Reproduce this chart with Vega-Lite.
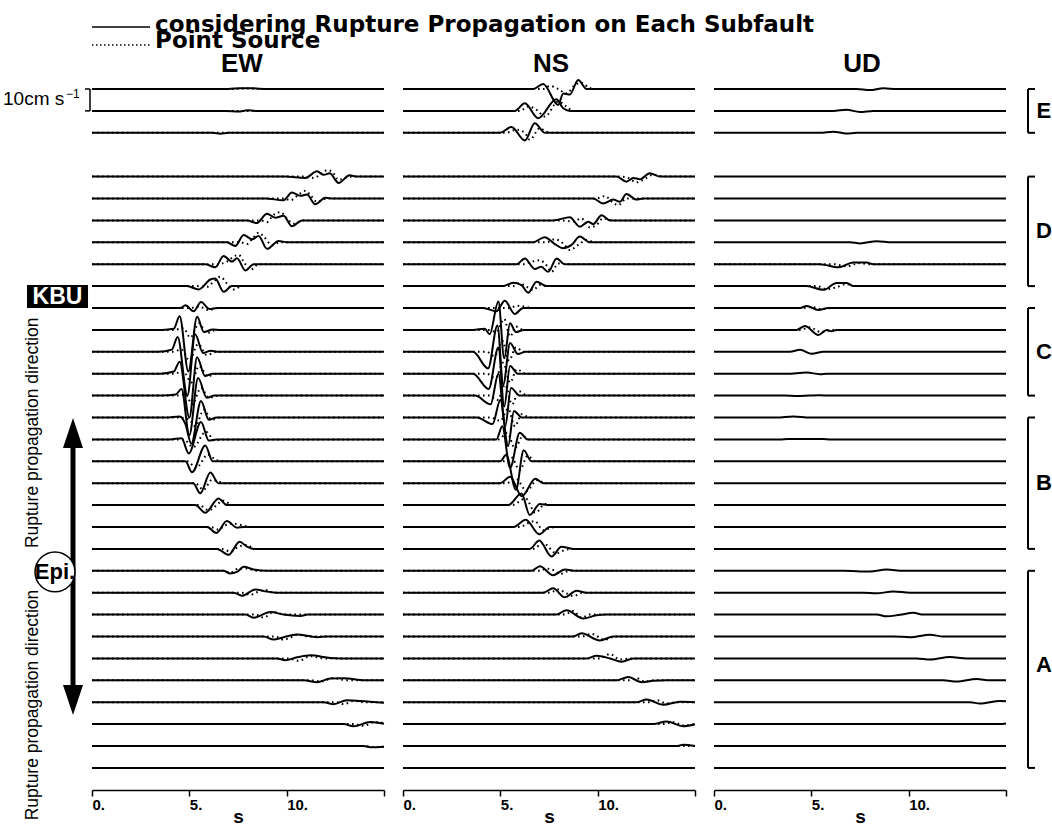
{
"$schema":"https://vega.github.io/schema/vega-lite/v6.json",
"padding":0,"background":"white","bounds":"flush","spacing":19,
"config":{"view":{"stroke":null},
"axisX":{"grid":false,"domainColor":"#000","domainWidth":1.5,"tickColor":"#000","tickWidth":1.5,"tickSize":6,"labelFont":"Liberation Sans","labelFontWeight":"bold","labelFontSize":15,"labelColor":"#000","labelAlign":"left","labelBaseline":"top","labelPadding":1,"labelFlush":false,"labelOverlap":false,"titleFont":"Liberation Sans","titleFontWeight":"bold","titleFontSize":19,"titleColor":"#000","titlePadding":-5}},
"datasets":{
"ewS":[
{"n":0,"t":0,"y":0},{"n":0,"t":7,"y":0},{"n":0,"t":7.6,"y":-0.04},{"n":0,"t":8.3,"y":-0.03},{"n":0,"t":9,"y":0},{"n":0,"t":15,"y":0},
{"n":1,"t":0,"y":1},{"n":1,"t":6.9,"y":1},{"n":1,"t":7.5,"y":1.03},{"n":1,"t":8,"y":0.97},{"n":1,"t":8.4,"y":1},{"n":1,"t":15,"y":1},
{"n":2,"t":0,"y":2},{"n":2,"t":6.2,"y":2},{"n":2,"t":6.6,"y":2.04},{"n":2,"t":7,"y":2},{"n":2,"t":15,"y":2},
{"n":4,"t":0,"y":4},{"n":4,"t":9.93,"y":4},{"n":4,"t":10.96,"y":4.06},{"n":4,"t":11.56,"y":3.76},{"n":4,"t":11.9,"y":3.92},{"n":4,"t":12.21,"y":3.85},{"n":4,"t":12.67,"y":4.29},{"n":4,"t":13.23,"y":3.94},{"n":4,"t":13.61,"y":4},{"n":4,"t":15,"y":4},
{"n":5,"t":0,"y":5},{"n":5,"t":8.9,"y":5},{"n":5,"t":9.84,"y":5.08},{"n":5,"t":10.27,"y":4.73},{"n":5,"t":10.7,"y":4.88},{"n":5,"t":11.04,"y":4.82},{"n":5,"t":11.47,"y":5.26},{"n":5,"t":11.99,"y":4.97},{"n":5,"t":12.41,"y":5},{"n":5,"t":15,"y":5},
{"n":6,"t":0,"y":6},{"n":6,"t":7.96,"y":6},{"n":6,"t":8.47,"y":6.12},{"n":6,"t":8.99,"y":5.7},{"n":6,"t":9.42,"y":5.88},{"n":6,"t":9.84,"y":5.79},{"n":6,"t":10.27,"y":6.27},{"n":6,"t":10.79,"y":6},{"n":6,"t":15,"y":6},
{"n":7,"t":0,"y":7},{"n":7,"t":6.93,"y":7},{"n":7,"t":7.36,"y":7.17},{"n":7,"t":7.79,"y":6.67},{"n":7,"t":8.22,"y":6.86},{"n":7,"t":8.56,"y":6.71},{"n":7,"t":8.99,"y":7.3},{"n":7,"t":9.59,"y":6.94},{"n":7,"t":10.02,"y":7},{"n":7,"t":15,"y":7},
{"n":8,"t":0,"y":8},{"n":8,"t":5.82,"y":8},{"n":8,"t":6.33,"y":8.14},{"n":8,"t":6.76,"y":7.62},{"n":8,"t":7.19,"y":7.88},{"n":8,"t":7.45,"y":7.73},{"n":8,"t":7.88,"y":8.29},{"n":8,"t":8.3,"y":8},{"n":8,"t":15,"y":8},
{"n":9,"t":0,"y":9},{"n":9,"t":4.88,"y":9},{"n":9,"t":5.48,"y":9.15},{"n":9,"t":6.08,"y":8.7},{"n":9,"t":6.33,"y":8.65},{"n":9,"t":6.76,"y":9.26},{"n":9,"t":7.19,"y":9},{"n":9,"t":15,"y":9},
{"n":10,"t":0,"y":10},{"n":10,"t":4.54,"y":10},{"n":10,"t":4.8,"y":9.88},{"n":10,"t":5.22,"y":10.15},{"n":10,"t":5.6,"y":9.73},{"n":10,"t":6.05,"y":10.05},{"n":10,"t":6.42,"y":10},{"n":10,"t":15,"y":10},
{"n":11,"t":0,"y":11},{"n":11,"t":3.6,"y":11},{"n":11,"t":4.2,"y":10.95},{"n":11,"t":4.5,"y":10.38},{"n":11,"t":4.95,"y":12.9},{"n":11,"t":5.4,"y":10.4},{"n":11,"t":5.75,"y":11.1},{"n":11,"t":6.2,"y":10.98},{"n":11,"t":6.6,"y":11},{"n":11,"t":15,"y":11},
{"n":12,"t":0,"y":12},{"n":12,"t":3.4,"y":12},{"n":12,"t":4.1,"y":11.9},{"n":12,"t":4.4,"y":11.32},{"n":12,"t":4.9,"y":14},{"n":12,"t":5.3,"y":11.2},{"n":12,"t":5.7,"y":12.05},{"n":12,"t":6.1,"y":11.95},{"n":12,"t":6.5,"y":12},{"n":12,"t":15,"y":12},
{"n":13,"t":0,"y":13},{"n":13,"t":3.5,"y":13},{"n":13,"t":4.2,"y":12.9},{"n":13,"t":4.5,"y":12.45},{"n":13,"t":5,"y":15},{"n":13,"t":5.4,"y":12.25},{"n":13,"t":5.8,"y":13.1},{"n":13,"t":6.2,"y":13},{"n":13,"t":15,"y":13},
{"n":14,"t":0,"y":14},{"n":14,"t":3.6,"y":14},{"n":14,"t":4.3,"y":13.95},{"n":14,"t":4.6,"y":13.7},{"n":14,"t":5,"y":15.8},{"n":14,"t":5.45,"y":13.2},{"n":14,"t":5.9,"y":14.1},{"n":14,"t":6.3,"y":14},{"n":14,"t":15,"y":14},
{"n":15,"t":0,"y":15},{"n":15,"t":3.8,"y":15},{"n":15,"t":4.5,"y":14.95},{"n":15,"t":4.8,"y":15.3},{"n":15,"t":5.1,"y":16.2},{"n":15,"t":5.6,"y":14.25},{"n":15,"t":6,"y":15.1},{"n":15,"t":6.4,"y":15},{"n":15,"t":15,"y":15},
{"n":16,"t":0,"y":16},{"n":16,"t":4,"y":16},{"n":16,"t":4.6,"y":15.95},{"n":16,"t":4.97,"y":16.64},{"n":16,"t":5.6,"y":15.2},{"n":16,"t":6,"y":16.05},{"n":16,"t":6.4,"y":16},{"n":16,"t":15,"y":16},
{"n":17,"t":0,"y":17},{"n":17,"t":4.8,"y":17},{"n":17,"t":5.14,"y":17.5},{"n":17,"t":5.82,"y":16.28},{"n":17,"t":6.2,"y":17},{"n":17,"t":15,"y":17},
{"n":18,"t":0,"y":18},{"n":18,"t":5.2,"y":18},{"n":18,"t":5.56,"y":18.46},{"n":18,"t":6.08,"y":17.51},{"n":18,"t":6.5,"y":18},{"n":18,"t":15,"y":18},
{"n":19,"t":0,"y":19},{"n":19,"t":5.3,"y":19},{"n":19,"t":5.82,"y":19.35},{"n":19,"t":6.5,"y":18.7},{"n":19,"t":6.93,"y":19},{"n":19,"t":15,"y":19},
{"n":20,"t":0,"y":20},{"n":20,"t":5.91,"y":20},{"n":20,"t":6.39,"y":20.27},{"n":20,"t":6.93,"y":19.73},{"n":20,"t":7.45,"y":20.03},{"n":20,"t":7.79,"y":20},{"n":20,"t":15,"y":20},
{"n":21,"t":0,"y":21},{"n":21,"t":6.42,"y":21},{"n":21,"t":7.02,"y":21.27},{"n":21,"t":7.58,"y":20.67},{"n":21,"t":7.96,"y":20.9},{"n":21,"t":8.3,"y":21},{"n":21,"t":15,"y":21},
{"n":22,"t":0,"y":22},{"n":22,"t":6.76,"y":22},{"n":22,"t":7.07,"y":22.12},{"n":22,"t":7.45,"y":22.05},{"n":22,"t":7.79,"y":21.82},{"n":22,"t":8.3,"y":21.94},{"n":22,"t":8.99,"y":22},{"n":22,"t":15,"y":22},
{"n":23,"t":0,"y":23},{"n":23,"t":7.28,"y":23},{"n":23,"t":7.7,"y":23.14},{"n":23,"t":8.39,"y":22.85},{"n":23,"t":8.99,"y":22.95},{"n":23,"t":9.5,"y":23},{"n":23,"t":15,"y":23},
{"n":24,"t":0,"y":24},{"n":24,"t":7.88,"y":24},{"n":24,"t":8.3,"y":24.14},{"n":24,"t":9.16,"y":23.88},{"n":24,"t":9.84,"y":24},{"n":24,"t":10.7,"y":24.06},{"n":24,"t":11.1,"y":24},{"n":24,"t":15,"y":24},
{"n":25,"t":0,"y":25},{"n":25,"t":8.82,"y":25},{"n":25,"t":9.33,"y":25.14},{"n":25,"t":9.84,"y":25.03},{"n":25,"t":10.53,"y":24.91},{"n":25,"t":11.56,"y":25.03},{"n":25,"t":12.07,"y":25},{"n":25,"t":15,"y":25},
{"n":26,"t":0,"y":26},{"n":26,"t":9.5,"y":26},{"n":26,"t":9.93,"y":26.08},{"n":26,"t":10.53,"y":25.95},{"n":26,"t":11.22,"y":25.86},{"n":26,"t":12.24,"y":25.98},{"n":26,"t":12.76,"y":26},{"n":26,"t":15,"y":26},
{"n":27,"t":0,"y":27},{"n":27,"t":10.87,"y":27},{"n":27,"t":11.56,"y":27.09},{"n":27,"t":12.24,"y":26.92},{"n":27,"t":12.93,"y":26.91},{"n":27,"t":14,"y":27},{"n":27,"t":15,"y":27},
{"n":28,"t":0,"y":28},{"n":28,"t":11.9,"y":28},{"n":28,"t":12.41,"y":28.09},{"n":28,"t":13.1,"y":27.91},{"n":28,"t":13.78,"y":27.94},{"n":28,"t":15,"y":28.02},
{"n":29,"t":0,"y":29},{"n":29,"t":12.93,"y":29},{"n":29,"t":13.44,"y":29.1},{"n":29,"t":14.3,"y":28.9},{"n":29,"t":15,"y":28.98},
{"n":30,"t":0,"y":30},{"n":30,"t":13.95,"y":30},{"n":30,"t":14.38,"y":30.06},{"n":30,"t":15,"y":30.03},
{"n":31,"t":0,"y":31},{"n":31,"t":15,"y":31}],
"ewP":[
{"n":0,"t":0,"y":0},{"n":0,"t":7.2,"y":0},{"n":0,"t":7.9,"y":-0.03},{"n":0,"t":8.6,"y":0},{"n":0,"t":15,"y":0},
{"n":1,"t":0,"y":1},{"n":1,"t":15,"y":1},{"n":2,"t":0,"y":2},{"n":2,"t":15,"y":2},
{"n":4,"t":0,"y":4},{"n":4,"t":10.87,"y":4},{"n":4,"t":11.39,"y":4.06},{"n":4,"t":11.81,"y":3.85},{"n":4,"t":12.1,"y":3.7},{"n":4,"t":12.38,"y":3.82},{"n":4,"t":12.67,"y":4.15},{"n":4,"t":13.1,"y":4.03},{"n":4,"t":13.44,"y":4},{"n":4,"t":15,"y":4},
{"n":5,"t":0,"y":5},{"n":5,"t":9.84,"y":5},{"n":5,"t":10.19,"y":5.08},{"n":5,"t":10.62,"y":4.82},{"n":5,"t":10.96,"y":4.65},{"n":5,"t":11.22,"y":4.85},{"n":5,"t":11.56,"y":5.15},{"n":5,"t":12.07,"y":5},{"n":5,"t":15,"y":5},
{"n":6,"t":0,"y":6},{"n":6,"t":8.65,"y":6},{"n":6,"t":8.99,"y":6.08},{"n":6,"t":9.3,"y":5.77},{"n":6,"t":9.67,"y":5.62},{"n":6,"t":10.02,"y":5.92},{"n":6,"t":10.36,"y":6.15},{"n":6,"t":10.87,"y":6},{"n":6,"t":15,"y":6},
{"n":7,"t":0,"y":7},{"n":7,"t":7.62,"y":7},{"n":7,"t":7.96,"y":7.08},{"n":7,"t":8.3,"y":6.77},{"n":7,"t":8.56,"y":6.56},{"n":7,"t":8.82,"y":6.74},{"n":7,"t":9.25,"y":7.12},{"n":7,"t":9.68,"y":7},{"n":7,"t":15,"y":7},
{"n":8,"t":0,"y":8},{"n":8,"t":6.42,"y":8},{"n":8,"t":6.93,"y":7.88},{"n":8,"t":7.28,"y":7.65},{"n":8,"t":7.53,"y":7.57},{"n":8,"t":7.79,"y":7.88},{"n":8,"t":8.13,"y":8.26},{"n":8,"t":8.56,"y":8},{"n":8,"t":15,"y":8},
{"n":9,"t":0,"y":9},{"n":9,"t":5.39,"y":9},{"n":9,"t":5.91,"y":9.03},{"n":9,"t":6.25,"y":8.8},{"n":9,"t":6.59,"y":8.57},{"n":9,"t":6.93,"y":8.88},{"n":9,"t":7.28,"y":9.15},{"n":9,"t":7.7,"y":9},{"n":9,"t":15,"y":9},
{"n":10,"t":0,"y":10},{"n":10,"t":5.05,"y":10},{"n":10,"t":5.5,"y":9.94},{"n":10,"t":6,"y":10.09},{"n":10,"t":6.5,"y":10},{"n":10,"t":15,"y":10},
{"n":11,"t":0,"y":11},{"n":11,"t":4.2,"y":11},{"n":11,"t":4.7,"y":10.92},{"n":11,"t":5.05,"y":11.35},{"n":11,"t":5.5,"y":10.7},{"n":11,"t":5.9,"y":11.15},{"n":11,"t":6.4,"y":11},{"n":11,"t":15,"y":11},
{"n":12,"t":0,"y":12},{"n":12,"t":4.1,"y":12},{"n":12,"t":4.6,"y":11.9},{"n":12,"t":5,"y":12.4},{"n":12,"t":5.45,"y":11.65},{"n":12,"t":5.9,"y":12.15},{"n":12,"t":6.4,"y":12},{"n":12,"t":15,"y":12},
{"n":13,"t":0,"y":13},{"n":13,"t":4.2,"y":13},{"n":13,"t":4.7,"y":12.9},{"n":13,"t":5.1,"y":13.4},{"n":13,"t":5.5,"y":12.65},{"n":13,"t":5.95,"y":13.12},{"n":13,"t":6.4,"y":13},{"n":13,"t":15,"y":13},
{"n":14,"t":0,"y":14},{"n":14,"t":4.3,"y":14},{"n":14,"t":4.8,"y":13.95},{"n":14,"t":5.15,"y":14.4},{"n":14,"t":5.6,"y":13.65},{"n":14,"t":6,"y":14.1},{"n":14,"t":6.5,"y":14},{"n":14,"t":15,"y":14},
{"n":15,"t":0,"y":15},{"n":15,"t":4.5,"y":15},{"n":15,"t":5,"y":15.1},{"n":15,"t":5.3,"y":15.4},{"n":15,"t":5.75,"y":14.65},{"n":15,"t":6.15,"y":15.1},{"n":15,"t":6.6,"y":15},{"n":15,"t":15,"y":15},
{"n":16,"t":0,"y":16},{"n":16,"t":4.7,"y":16},{"n":16,"t":5.2,"y":16.35},{"n":16,"t":5.85,"y":15.65},{"n":16,"t":6.3,"y":16.05},{"n":16,"t":6.7,"y":16},{"n":16,"t":15,"y":16},
{"n":17,"t":0,"y":17},{"n":17,"t":4.9,"y":17},{"n":17,"t":5.35,"y":17.3},{"n":17,"t":5.95,"y":16.7},{"n":17,"t":6.4,"y":16.95},{"n":17,"t":6.8,"y":17},{"n":17,"t":15,"y":17},
{"n":18,"t":0,"y":18},{"n":18,"t":5.3,"y":18},{"n":18,"t":5.73,"y":18.3},{"n":18,"t":6.16,"y":17.85},{"n":18,"t":6.5,"y":17.92},{"n":18,"t":6.9,"y":18},{"n":18,"t":15,"y":18},
{"n":19,"t":0,"y":19},{"n":19,"t":5.5,"y":19},{"n":19,"t":6,"y":19.23},{"n":19,"t":6.76,"y":18.8},{"n":19,"t":7.2,"y":19},{"n":19,"t":15,"y":19},
{"n":20,"t":0,"y":20},{"n":20,"t":6.08,"y":20},{"n":20,"t":6.5,"y":20.12},{"n":20,"t":6.85,"y":19.92},{"n":20,"t":7.28,"y":19.85},{"n":20,"t":7.7,"y":19.92},{"n":20,"t":8.13,"y":20},{"n":20,"t":15,"y":20},
{"n":21,"t":0,"y":21},{"n":21,"t":6.68,"y":21},{"n":21,"t":7.1,"y":21.12},{"n":21,"t":7.53,"y":20.9},{"n":21,"t":7.96,"y":20.82},{"n":21,"t":8.39,"y":21},{"n":21,"t":15,"y":21},
{"n":22,"t":0,"y":22},{"n":22,"t":6.8,"y":22},{"n":22,"t":7.1,"y":22.09},{"n":22,"t":7.53,"y":21.9},{"n":22,"t":7.96,"y":21.9},{"n":22,"t":8.48,"y":22},{"n":22,"t":15,"y":22},
{"n":23,"t":0,"y":23},{"n":23,"t":7.7,"y":23},{"n":23,"t":8.13,"y":23.1},{"n":23,"t":8.56,"y":22.95},{"n":23,"t":8.9,"y":22.88},{"n":23,"t":9.33,"y":23},{"n":23,"t":15,"y":23},
{"n":24,"t":0,"y":24},{"n":24,"t":8.39,"y":24},{"n":24,"t":8.82,"y":24.14},{"n":24,"t":9.33,"y":23.88},{"n":24,"t":9.93,"y":24},{"n":24,"t":15,"y":24},
{"n":25,"t":0,"y":25},{"n":25,"t":9.42,"y":25},{"n":25,"t":9.84,"y":25.15},{"n":25,"t":10.19,"y":25.05},{"n":25,"t":10.53,"y":24.92},{"n":25,"t":11.22,"y":25},{"n":25,"t":15,"y":25},
{"n":26,"t":0,"y":26},{"n":26,"t":10.1,"y":26},{"n":26,"t":10.62,"y":26.11},{"n":26,"t":11.22,"y":25.9},{"n":26,"t":11.9,"y":26},{"n":26,"t":15,"y":26},
{"n":27,"t":0,"y":27},{"n":27,"t":11.22,"y":27},{"n":27,"t":11.73,"y":27.05},{"n":27,"t":12.41,"y":26.9},{"n":27,"t":13.1,"y":27},{"n":27,"t":15,"y":27},
{"n":28,"t":0,"y":28},{"n":28,"t":12.58,"y":28},{"n":28,"t":12.93,"y":28.09},{"n":28,"t":13.44,"y":27.94},{"n":28,"t":13.95,"y":28},{"n":28,"t":15,"y":28},
{"n":29,"t":0,"y":29},{"n":29,"t":13.44,"y":29},{"n":29,"t":13.95,"y":29.08},{"n":29,"t":14.47,"y":28.91},{"n":29,"t":15,"y":28.95},
{"n":30,"t":0,"y":30},{"n":30,"t":14,"y":30},{"n":30,"t":14.45,"y":30.05},{"n":30,"t":15,"y":30.03},
{"n":31,"t":0,"y":31},{"n":31,"t":15,"y":31}],
"nsS":[
{"n":0,"t":0,"y":0},{"n":0,"t":6.69,"y":0},{"n":0,"t":7.2,"y":-0.23},{"n":0,"t":7.97,"y":0.73},{"n":0,"t":8.23,"y":0.2},{"n":0,"t":8.57,"y":0.25},{"n":0,"t":9,"y":-0.41},{"n":0,"t":9.43,"y":0},{"n":0,"t":15,"y":0},
{"n":1,"t":0,"y":1},{"n":1,"t":5.74,"y":1},{"n":1,"t":6.26,"y":0.65},{"n":1,"t":6.94,"y":1.33},{"n":1,"t":7.88,"y":0.47},{"n":1,"t":8.23,"y":0.88},{"n":1,"t":8.57,"y":1},{"n":1,"t":15,"y":1},
{"n":2,"t":0,"y":2},{"n":2,"t":4.97,"y":2},{"n":2,"t":5.57,"y":1.74},{"n":2,"t":6.26,"y":2.35},{"n":2,"t":6.77,"y":1.56},{"n":2,"t":7.29,"y":2},{"n":2,"t":15,"y":2},
{"n":4,"t":0,"y":4},{"n":4,"t":10.97,"y":4},{"n":4,"t":11.48,"y":4.23},{"n":4,"t":11.83,"y":4.06},{"n":4,"t":12.17,"y":4.12},{"n":4,"t":12.68,"y":3.85},{"n":4,"t":13.2,"y":4},{"n":4,"t":15,"y":4},
{"n":5,"t":0,"y":5},{"n":5,"t":9.77,"y":5},{"n":5,"t":10.28,"y":5.23},{"n":5,"t":10.8,"y":5.05},{"n":5,"t":11.14,"y":5.15},{"n":5,"t":11.48,"y":4.8},{"n":5,"t":12,"y":5.05},{"n":5,"t":12.34,"y":5},{"n":5,"t":15,"y":5},
{"n":6,"t":0,"y":6},{"n":6,"t":7.71,"y":6},{"n":6,"t":8.57,"y":5.86},{"n":6,"t":9.08,"y":6.29},{"n":6,"t":9.51,"y":6.06},{"n":6,"t":9.77,"y":6.17},{"n":6,"t":10.2,"y":5.76},{"n":6,"t":10.63,"y":6},{"n":6,"t":15,"y":6},
{"n":7,"t":0,"y":7},{"n":7,"t":6.68,"y":7},{"n":7,"t":7.28,"y":6.77},{"n":7,"t":7.8,"y":7.08},{"n":7,"t":8.23,"y":7.27},{"n":7,"t":8.66,"y":7.12},{"n":7,"t":9.08,"y":6.74},{"n":7,"t":9.6,"y":7},{"n":7,"t":15,"y":7},
{"n":8,"t":0,"y":8},{"n":8,"t":5.83,"y":8},{"n":8,"t":6.26,"y":7.74},{"n":8,"t":6.77,"y":8.22},{"n":8,"t":7.1,"y":8.12},{"n":8,"t":7.46,"y":8.35},{"n":8,"t":7.89,"y":7.74},{"n":8,"t":8.31,"y":8},{"n":8,"t":15,"y":8},
{"n":9,"t":0,"y":9},{"n":9,"t":5.14,"y":9},{"n":9,"t":5.66,"y":8.85},{"n":9,"t":6.08,"y":8.95},{"n":9,"t":6.43,"y":9.3},{"n":9,"t":6.86,"y":8.8},{"n":9,"t":7.37,"y":9},{"n":9,"t":15,"y":9},
{"n":10,"t":0,"y":10},{"n":10,"t":4.12,"y":10},{"n":10,"t":4.8,"y":10.15},{"n":10,"t":5.23,"y":9.67},{"n":10,"t":5.74,"y":10.27},{"n":10,"t":6.17,"y":10},{"n":10,"t":15,"y":10},
{"n":11,"t":0,"y":11},{"n":11,"t":3.6,"y":11},{"n":11,"t":4.2,"y":10.95},{"n":11,"t":4.45,"y":11.2},{"n":11,"t":4.9,"y":9.7},{"n":11,"t":5.2,"y":12.3},{"n":11,"t":5.5,"y":10.7},{"n":11,"t":5.8,"y":11.1},{"n":11,"t":6.2,"y":11},{"n":11,"t":15,"y":11},
{"n":12,"t":0,"y":12},{"n":12,"t":3.6,"y":12},{"n":12,"t":4.37,"y":12.76},{"n":12,"t":4.85,"y":10.8},{"n":12,"t":5.15,"y":13.5},{"n":12,"t":5.5,"y":11.6},{"n":12,"t":5.9,"y":12.1},{"n":12,"t":6.3,"y":12},{"n":12,"t":15,"y":12},
{"n":13,"t":0,"y":13},{"n":13,"t":3.6,"y":13},{"n":13,"t":4.4,"y":13.7},{"n":13,"t":4.9,"y":11.8},{"n":13,"t":5.2,"y":14.5},{"n":13,"t":5.5,"y":12.65},{"n":13,"t":5.9,"y":13},{"n":13,"t":15,"y":13},
{"n":14,"t":0,"y":14},{"n":14,"t":3.7,"y":14},{"n":14,"t":4.5,"y":14.4},{"n":14,"t":4.9,"y":13},{"n":14,"t":5.25,"y":15.4},{"n":14,"t":5.55,"y":13.65},{"n":14,"t":6,"y":14},{"n":14,"t":15,"y":14},
{"n":15,"t":0,"y":15},{"n":15,"t":3.8,"y":15},{"n":15,"t":4.6,"y":15.3},{"n":15,"t":5,"y":14.2},{"n":15,"t":5.4,"y":16.3},{"n":15,"t":5.7,"y":14.7},{"n":15,"t":6.1,"y":15},{"n":15,"t":15,"y":15},
{"n":16,"t":0,"y":16},{"n":16,"t":4.8,"y":16},{"n":16,"t":5.1,"y":15.4},{"n":16,"t":5.5,"y":17.3},{"n":16,"t":6,"y":15.7},{"n":16,"t":6.4,"y":16},{"n":16,"t":15,"y":16},
{"n":17,"t":0,"y":17},{"n":17,"t":5,"y":17},{"n":17,"t":5.3,"y":16.7},{"n":17,"t":5.8,"y":18.3},{"n":17,"t":6.2,"y":16.5},{"n":17,"t":6.6,"y":17},{"n":17,"t":15,"y":17},
{"n":18,"t":0,"y":18},{"n":18,"t":5,"y":18},{"n":18,"t":5.5,"y":17.7},{"n":18,"t":6.1,"y":18.6},{"n":18,"t":6.8,"y":17.8},{"n":18,"t":7.2,"y":18},{"n":18,"t":15,"y":18},
{"n":19,"t":0,"y":19},{"n":19,"t":5.4,"y":19},{"n":19,"t":6.09,"y":18.47},{"n":19,"t":6.51,"y":19.45},{"n":19,"t":7.03,"y":18.95},{"n":19,"t":7.5,"y":19},{"n":19,"t":15,"y":19},
{"n":20,"t":0,"y":20},{"n":20,"t":5.66,"y":20},{"n":20,"t":6.31,"y":19.67},{"n":20,"t":7,"y":20.33},{"n":20,"t":7.54,"y":20},{"n":20,"t":15,"y":20},
{"n":21,"t":0,"y":21},{"n":21,"t":6.51,"y":21},{"n":21,"t":7,"y":20.62},{"n":21,"t":7.63,"y":21.35},{"n":21,"t":8.14,"y":20.9},{"n":21,"t":8.74,"y":21},{"n":21,"t":15,"y":21},
{"n":22,"t":0,"y":22},{"n":22,"t":6.6,"y":22},{"n":22,"t":7.03,"y":21.79},{"n":22,"t":7.71,"y":22.2},{"n":22,"t":8.31,"y":21.94},{"n":22,"t":8.91,"y":22},{"n":22,"t":15,"y":22},
{"n":23,"t":0,"y":23},{"n":23,"t":7.2,"y":23},{"n":23,"t":7.71,"y":22.8},{"n":23,"t":8.31,"y":23.21},{"n":23,"t":8.91,"y":22.91},{"n":23,"t":9.43,"y":23},{"n":23,"t":15,"y":23},
{"n":24,"t":0,"y":24},{"n":24,"t":7.88,"y":24},{"n":24,"t":8.4,"y":23.8},{"n":24,"t":9.26,"y":24.18},{"n":24,"t":9.94,"y":24.03},{"n":24,"t":10.46,"y":24},{"n":24,"t":15,"y":24},
{"n":25,"t":0,"y":25},{"n":25,"t":8.74,"y":25},{"n":25,"t":9.17,"y":24.85},{"n":25,"t":10.11,"y":25.18},{"n":25,"t":10.8,"y":25},{"n":25,"t":15,"y":25},
{"n":26,"t":0,"y":26},{"n":26,"t":9.43,"y":26},{"n":26,"t":9.94,"y":25.88},{"n":26,"t":10.63,"y":26},{"n":26,"t":11.23,"y":26.15},{"n":26,"t":11.83,"y":26},{"n":26,"t":15,"y":26},
{"n":27,"t":0,"y":27},{"n":27,"t":10.97,"y":27},{"n":27,"t":11.57,"y":26.85},{"n":27,"t":12.26,"y":27.09},{"n":27,"t":12.86,"y":27.02},{"n":27,"t":13.54,"y":27},{"n":27,"t":15,"y":27},
{"n":28,"t":0,"y":28},{"n":28,"t":12,"y":28},{"n":28,"t":12.51,"y":27.88},{"n":28,"t":13.37,"y":28.12},{"n":28,"t":14.23,"y":27.98},{"n":28,"t":15,"y":28},
{"n":29,"t":0,"y":29},{"n":29,"t":12.86,"y":29},{"n":29,"t":13.54,"y":28.88},{"n":29,"t":14.4,"y":29.1},{"n":29,"t":15,"y":29.01},
{"n":30,"t":0,"y":30},{"n":30,"t":14.05,"y":30},{"n":30,"t":14.4,"y":29.94},{"n":30,"t":15,"y":30},
{"n":31,"t":0,"y":31},{"n":31,"t":15,"y":31}],
"nsP":[
{"n":0,"t":0,"y":0},{"n":0,"t":7.2,"y":0},{"n":0,"t":7.54,"y":-0.14},{"n":0,"t":7.97,"y":0},{"n":0,"t":8.4,"y":0.2},{"n":0,"t":8.83,"y":-0.18},{"n":0,"t":9.17,"y":-0.29},{"n":0,"t":9.51,"y":-0.08},{"n":0,"t":9.8,"y":0},{"n":0,"t":15,"y":0},
{"n":1,"t":0,"y":1},{"n":1,"t":6,"y":1},{"n":1,"t":6.43,"y":0.8},{"n":1,"t":6.86,"y":0.95},{"n":1,"t":7.29,"y":1.26},{"n":1,"t":7.97,"y":0.57},{"n":1,"t":8.4,"y":0.8},{"n":1,"t":8.74,"y":1},{"n":1,"t":15,"y":1},
{"n":2,"t":0,"y":2},{"n":2,"t":5.3,"y":2},{"n":2,"t":5.83,"y":1.86},{"n":2,"t":6.26,"y":2},{"n":2,"t":6.51,"y":2.32},{"n":2,"t":7.03,"y":1.79},{"n":2,"t":7.37,"y":1.95},{"n":2,"t":7.71,"y":2},{"n":2,"t":15,"y":2},
{"n":4,"t":0,"y":4},{"n":4,"t":11.14,"y":4},{"n":4,"t":11.48,"y":4.03},{"n":4,"t":12,"y":4.26},{"n":4,"t":12.34,"y":4.15},{"n":4,"t":12.86,"y":3.91},{"n":4,"t":13.4,"y":4},{"n":4,"t":15,"y":4},
{"n":5,"t":0,"y":5},{"n":5,"t":9.94,"y":5},{"n":5,"t":10.37,"y":4.89},{"n":5,"t":10.8,"y":5.2},{"n":5,"t":11.06,"y":5.3},{"n":5,"t":11.48,"y":5},{"n":5,"t":15,"y":5},
{"n":6,"t":0,"y":6},{"n":6,"t":8.06,"y":6},{"n":6,"t":8.74,"y":6.05},{"n":6,"t":9.17,"y":5.91},{"n":6,"t":9.6,"y":6.32},{"n":6,"t":9.94,"y":6.21},{"n":6,"t":10.28,"y":5.91},{"n":6,"t":10.8,"y":6},{"n":6,"t":15,"y":6},
{"n":7,"t":0,"y":7},{"n":7,"t":7.37,"y":7},{"n":7,"t":7.8,"y":6.86},{"n":7,"t":8.23,"y":7.05},{"n":7,"t":8.57,"y":7.35},{"n":7,"t":9,"y":7.12},{"n":7,"t":9.43,"y":6.89},{"n":7,"t":9.86,"y":7},{"n":7,"t":15,"y":7},
{"n":8,"t":0,"y":8},{"n":8,"t":6.17,"y":8},{"n":8,"t":6.6,"y":7.89},{"n":8,"t":7.03,"y":7.82},{"n":8,"t":7.37,"y":8.05},{"n":8,"t":7.63,"y":8.35},{"n":8,"t":7.97,"y":7.97},{"n":8,"t":8.4,"y":8},{"n":8,"t":15,"y":8},
{"n":9,"t":0,"y":9},{"n":9,"t":5.66,"y":9},{"n":9,"t":6,"y":8.88},{"n":9,"t":6.34,"y":9.03},{"n":9,"t":6.68,"y":9.18},{"n":9,"t":7.03,"y":8.95},{"n":9,"t":7.37,"y":9},{"n":9,"t":15,"y":9},
{"n":10,"t":0,"y":10},{"n":10,"t":5.49,"y":10},{"n":10,"t":5.83,"y":9.9},{"n":10,"t":6.26,"y":9.94},{"n":10,"t":6.6,"y":10},{"n":10,"t":15,"y":10},
{"n":11,"t":0,"y":11},{"n":11,"t":4.4,"y":11},{"n":11,"t":4.8,"y":11.1},{"n":11,"t":5.2,"y":10.5},{"n":11,"t":5.5,"y":11.3},{"n":11,"t":5.8,"y":10.85},{"n":11,"t":6.2,"y":11},{"n":11,"t":15,"y":11},
{"n":12,"t":0,"y":12},{"n":12,"t":4.3,"y":12},{"n":12,"t":4.7,"y":12.2},{"n":12,"t":5.1,"y":11.5},{"n":12,"t":5.45,"y":12.4},{"n":12,"t":5.8,"y":11.8},{"n":12,"t":6.2,"y":12},{"n":12,"t":15,"y":12},
{"n":13,"t":0,"y":13},{"n":13,"t":4.3,"y":13},{"n":13,"t":4.75,"y":13.2},{"n":13,"t":5.15,"y":12.5},{"n":13,"t":5.5,"y":13.4},{"n":13,"t":5.85,"y":12.8},{"n":13,"t":6.3,"y":13},{"n":13,"t":15,"y":13},
{"n":14,"t":0,"y":14},{"n":14,"t":4.4,"y":14},{"n":14,"t":4.85,"y":14.2},{"n":14,"t":5.25,"y":13.5},{"n":14,"t":5.6,"y":14.4},{"n":14,"t":5.95,"y":13.8},{"n":14,"t":6.4,"y":14},{"n":14,"t":15,"y":14},
{"n":15,"t":0,"y":15},{"n":15,"t":4.5,"y":15},{"n":15,"t":5,"y":15.15},{"n":15,"t":5.4,"y":14.6},{"n":15,"t":5.75,"y":15.4},{"n":15,"t":6.1,"y":14.85},{"n":15,"t":6.5,"y":15},{"n":15,"t":15,"y":15},
{"n":16,"t":0,"y":16},{"n":16,"t":4.9,"y":16},{"n":16,"t":5.35,"y":15.7},{"n":16,"t":5.75,"y":16.4},{"n":16,"t":6.15,"y":15.85},{"n":16,"t":6.5,"y":16},{"n":16,"t":15,"y":16},
{"n":17,"t":0,"y":17},{"n":17,"t":5.2,"y":17},{"n":17,"t":5.55,"y":16.8},{"n":17,"t":6,"y":17.4},{"n":17,"t":6.4,"y":16.75},{"n":17,"t":6.8,"y":17},{"n":17,"t":15,"y":17},
{"n":18,"t":0,"y":18},{"n":18,"t":5.3,"y":18},{"n":18,"t":5.8,"y":17.8},{"n":18,"t":6.35,"y":18.35},{"n":18,"t":6.9,"y":17.85},{"n":18,"t":7.3,"y":18},{"n":18,"t":15,"y":18},
{"n":19,"t":0,"y":19},{"n":19,"t":5.6,"y":19},{"n":19,"t":6.3,"y":18.7},{"n":19,"t":6.8,"y":19.35},{"n":19,"t":7.3,"y":18.95},{"n":19,"t":7.7,"y":19},{"n":19,"t":15,"y":19},
{"n":20,"t":0,"y":20},{"n":20,"t":6,"y":20},{"n":20,"t":6.43,"y":19.82},{"n":20,"t":6.77,"y":19.73},{"n":20,"t":7.2,"y":20.15},{"n":20,"t":7.63,"y":20.03},{"n":20,"t":8.06,"y":20},{"n":20,"t":15,"y":20},
{"n":21,"t":0,"y":21},{"n":21,"t":6.68,"y":21},{"n":21,"t":7.2,"y":20.74},{"n":21,"t":7.88,"y":21.2},{"n":21,"t":8.31,"y":21.05},{"n":21,"t":8.74,"y":21},{"n":21,"t":15,"y":21},
{"n":22,"t":0,"y":22},{"n":22,"t":7.03,"y":22},{"n":22,"t":7.37,"y":21.9},{"n":22,"t":7.8,"y":22},{"n":22,"t":8.06,"y":22.15},{"n":22,"t":8.57,"y":22},{"n":22,"t":15,"y":22},
{"n":23,"t":0,"y":23},{"n":23,"t":7.54,"y":23},{"n":23,"t":7.97,"y":22.85},{"n":23,"t":8.4,"y":23.03},{"n":23,"t":8.74,"y":23.15},{"n":23,"t":9.26,"y":23},{"n":23,"t":15,"y":23},
{"n":24,"t":0,"y":24},{"n":24,"t":8.31,"y":24},{"n":24,"t":8.74,"y":23.83},{"n":24,"t":9.17,"y":24.14},{"n":24,"t":9.6,"y":24},{"n":24,"t":15,"y":24},
{"n":25,"t":0,"y":25},{"n":25,"t":9.17,"y":25},{"n":25,"t":9.68,"y":24.88},{"n":25,"t":10.37,"y":25.15},{"n":25,"t":10.88,"y":25},{"n":25,"t":15,"y":25},
{"n":26,"t":0,"y":26},{"n":26,"t":10.11,"y":26},{"n":26,"t":10.63,"y":25.8},{"n":26,"t":11.14,"y":26.05},{"n":26,"t":11.66,"y":26},{"n":26,"t":15,"y":26},
{"n":27,"t":0,"y":27},{"n":27,"t":11.66,"y":27},{"n":27,"t":12,"y":26.9},{"n":27,"t":12.43,"y":27.05},{"n":27,"t":12.86,"y":27},{"n":27,"t":15,"y":27},
{"n":28,"t":0,"y":28},{"n":28,"t":12.68,"y":28},{"n":28,"t":13.03,"y":27.91},{"n":28,"t":13.54,"y":28.06},{"n":28,"t":14.05,"y":28},{"n":28,"t":15,"y":28},
{"n":29,"t":0,"y":29},{"n":29,"t":13.37,"y":29},{"n":29,"t":13.88,"y":28.91},{"n":29,"t":14.4,"y":29.06},{"n":29,"t":15,"y":29},
{"n":30,"t":0,"y":30},{"n":30,"t":15,"y":30},{"n":31,"t":0,"y":31},{"n":31,"t":15,"y":31}],
"udS":[
{"n":0,"t":0,"y":0},{"n":0,"t":7.33,"y":0},{"n":0,"t":8,"y":0.05},{"n":0,"t":8.7,"y":-0.03},{"n":0,"t":9.38,"y":0},{"n":0,"t":15,"y":0},
{"n":1,"t":0,"y":1},{"n":1,"t":6.13,"y":1},{"n":1,"t":6.8,"y":0.95},{"n":1,"t":7.5,"y":1.05},{"n":1,"t":8.18,"y":1},{"n":1,"t":15,"y":1},
{"n":2,"t":0,"y":2},{"n":2,"t":5.45,"y":2},{"n":2,"t":6.13,"y":1.95},{"n":2,"t":6.8,"y":2.03},{"n":2,"t":7.33,"y":2},{"n":2,"t":15,"y":2},
{"n":4,"t":0,"y":4},{"n":4,"t":15,"y":4},{"n":5,"t":0,"y":5},{"n":5,"t":15,"y":5},{"n":6,"t":0,"y":6},{"n":6,"t":15,"y":6},
{"n":7,"t":0,"y":7},{"n":7,"t":6.99,"y":7},{"n":7,"t":7.5,"y":7.05},{"n":7,"t":8.36,"y":6.95},{"n":7,"t":9.13,"y":7},{"n":7,"t":15,"y":7},
{"n":8,"t":0,"y":8},{"n":8,"t":5.45,"y":8},{"n":8,"t":6.39,"y":8.14},{"n":8,"t":7.16,"y":7.92},{"n":8,"t":7.84,"y":7.92},{"n":8,"t":8.18,"y":8},{"n":8,"t":15,"y":8},
{"n":9,"t":0,"y":9},{"n":9,"t":4.76,"y":9},{"n":9,"t":5.62,"y":9.17},{"n":9,"t":6.3,"y":8.86},{"n":9,"t":6.82,"y":8.86},{"n":9,"t":7.16,"y":9},{"n":9,"t":15,"y":9},
{"n":10,"t":0,"y":10},{"n":10,"t":4.42,"y":10},{"n":10,"t":4.76,"y":9.91},{"n":10,"t":5.36,"y":10.09},{"n":10,"t":5.87,"y":10},{"n":10,"t":15,"y":10},
{"n":11,"t":0,"y":11},{"n":11,"t":4.25,"y":11},{"n":11,"t":4.67,"y":10.82},{"n":11,"t":5.36,"y":11.23},{"n":11,"t":5.79,"y":11},{"n":11,"t":6.04,"y":11.06},{"n":11,"t":6.3,"y":11},{"n":11,"t":15,"y":11},
{"n":12,"t":0,"y":12},{"n":12,"t":3.9,"y":12},{"n":12,"t":4.42,"y":11.91},{"n":12,"t":5.02,"y":12.09},{"n":12,"t":5.62,"y":12},{"n":12,"t":15,"y":12},
{"n":13,"t":0,"y":13},{"n":13,"t":3.73,"y":13},{"n":13,"t":4.76,"y":12.95},{"n":13,"t":5.45,"y":13.02},{"n":13,"t":5.79,"y":13},{"n":13,"t":15,"y":13},
{"n":14,"t":0,"y":14},{"n":14,"t":3.6,"y":14},{"n":14,"t":4.3,"y":14.02},{"n":14,"t":5.4,"y":13.98},{"n":14,"t":6,"y":14},{"n":14,"t":15,"y":14},
{"n":15,"t":0,"y":15},{"n":15,"t":3.22,"y":15},{"n":15,"t":4.08,"y":14.95},{"n":15,"t":4.93,"y":15},{"n":15,"t":15,"y":15},
{"n":16,"t":0,"y":16},{"n":16,"t":3.4,"y":16},{"n":16,"t":3.8,"y":15.98},{"n":16,"t":5.6,"y":15.98},{"n":16,"t":6,"y":16},{"n":16,"t":15,"y":16},
{"n":17,"t":0,"y":17},{"n":17,"t":15,"y":17},{"n":18,"t":0,"y":18},{"n":18,"t":15,"y":18},{"n":19,"t":0,"y":19},{"n":19,"t":15,"y":19},{"n":20,"t":0,"y":20},{"n":20,"t":15,"y":20},{"n":21,"t":0,"y":21},{"n":21,"t":15,"y":21},
{"n":22,"t":0,"y":22},{"n":22,"t":6.64,"y":22},{"n":22,"t":8.01,"y":22.03},{"n":22,"t":8.87,"y":21.94},{"n":22,"t":9.73,"y":22},{"n":22,"t":15,"y":22},
{"n":23,"t":0,"y":23},{"n":23,"t":7.67,"y":23},{"n":23,"t":8.36,"y":23.03},{"n":23,"t":9.21,"y":22.94},{"n":23,"t":10.07,"y":23},{"n":23,"t":15,"y":23},
{"n":24,"t":0,"y":24},{"n":24,"t":8.36,"y":24},{"n":24,"t":8.87,"y":24.08},{"n":24,"t":9.55,"y":24.01},{"n":24,"t":10.24,"y":23.92},{"n":24,"t":10.75,"y":24},{"n":24,"t":15,"y":24},
{"n":25,"t":0,"y":25},{"n":25,"t":9.21,"y":25},{"n":25,"t":10.07,"y":25.03},{"n":25,"t":11.1,"y":24.92},{"n":25,"t":11.78,"y":25},{"n":25,"t":15,"y":25},
{"n":26,"t":0,"y":26},{"n":26,"t":10.41,"y":26},{"n":26,"t":11.1,"y":26.05},{"n":26,"t":12.12,"y":25.94},{"n":26,"t":12.98,"y":26},{"n":26,"t":15,"y":26},
{"n":27,"t":0,"y":27},{"n":27,"t":11.78,"y":27},{"n":27,"t":12.47,"y":27.06},{"n":27,"t":13.49,"y":26.94},{"n":27,"t":14.18,"y":27},{"n":27,"t":15,"y":27},
{"n":28,"t":0,"y":28},{"n":28,"t":13.15,"y":28},{"n":28,"t":13.66,"y":28.06},{"n":28,"t":14.69,"y":27.94},{"n":28,"t":15,"y":27.96},
{"n":29,"t":0,"y":29},{"n":29,"t":14.18,"y":29},{"n":29,"t":14.69,"y":29},{"n":29,"t":15,"y":28.97},
{"n":30,"t":0,"y":30},{"n":30,"t":15,"y":30},{"n":31,"t":0,"y":31},{"n":31,"t":15,"y":31}],
"udP":[
{"n":8,"t":0,"y":8},{"n":8,"t":6.13,"y":8},{"n":8,"t":6.82,"y":8.1},{"n":8,"t":7.5,"y":7.95},{"n":8,"t":8,"y":8},{"n":8,"t":15,"y":8},
{"n":9,"t":0,"y":9},{"n":9,"t":5.27,"y":9},{"n":9,"t":5.79,"y":9.14},{"n":9,"t":6.3,"y":9.05},{"n":9,"t":6.82,"y":8.9},{"n":9,"t":7.2,"y":9},{"n":9,"t":15,"y":9},
{"n":10,"t":0,"y":10},{"n":10,"t":4.6,"y":10},{"n":10,"t":5,"y":9.95},{"n":10,"t":5.5,"y":10.05},{"n":10,"t":6,"y":10},{"n":10,"t":15,"y":10},
{"n":11,"t":0,"y":11},{"n":11,"t":4.42,"y":11},{"n":11,"t":4.93,"y":10.88},{"n":11,"t":5.45,"y":11.09},{"n":11,"t":5.96,"y":11.02},{"n":11,"t":6.2,"y":11},{"n":11,"t":15,"y":11}],
"grp":[{"g":"E","n0":0,"n1":2,"m":1},{"g":"D","n0":4,"n1":9,"m":6.5},{"g":"C","n0":10,"n1":14,"m":12},{"g":"B","n0":15,"n1":21,"m":18},{"g":"A","n0":22,"n1":31,"m":26.3}]
},
"hconcat":[
{"width":73,"height":790,"data":{"values":[{}]},
 "layer":[
  {"mark":{"type":"text","font":"Liberation Sans","fontSize":19,"align":"left","baseline":"alphabetic","text":"10cm s","color":"#000"},
   "encoding":{"x":{"datum":-4.571,"type":"quantitative","scale":{"domain":[-4.725,-0.976],"nice":false,"zero":false},"axis":null},
               "y":{"datum":0.73,"type":"quantitative","scale":{"domain":[-4.064,32.009],"reverse":true,"nice":false,"zero":false},"axis":null}}},
  {"mark":{"type":"text","font":"Liberation Sans","fontSize":12,"align":"left","baseline":"alphabetic","text":"−1","color":"#000"},
   "encoding":{"x":{"datum":-1.335},"y":{"datum":0.41}}},
  {"mark":{"type":"rule","color":"#000","strokeWidth":1.5},"encoding":{"x":{"datum":-0.103},"y":{"datum":0},"y2":{"datum":1}}},
  {"mark":{"type":"rule","color":"#000","strokeWidth":1.5},"encoding":{"x":{"datum":-0.36},"x2":{"datum":-0.103},"y":{"datum":0}}},
  {"mark":{"type":"rule","color":"#000","strokeWidth":1.5},"encoding":{"x":{"datum":-0.36},"x2":{"datum":-0.103},"y":{"datum":1}}},
  {"mark":{"type":"rect","color":"#000"},"encoding":{"x":{"datum":-3.338},"x2":{"datum":-0.205},"y":{"datum":8.95},"y2":{"datum":10.0}}},
  {"mark":{"type":"text","font":"Liberation Sans","fontWeight":"bold","fontSize":23,"align":"center","baseline":"middle","text":"KBU","color":"#fff"},
   "encoding":{"x":{"datum":-1.772},"y":{"datum":9.5}}},
  {"mark":{"type":"rule","color":"#000","strokeWidth":5},"encoding":{"x":{"datum":-0.976},"y":{"datum":22},"y2":{"datum":16.3}}},
  {"mark":{"type":"point","shape":"M0,-1L0.667,1L-0.667,1Z","size":900,"filled":true,"color":"#000","opacity":1},"encoding":{"x":{"datum":-0.976},"y":{"datum":15.71}}},
  {"mark":{"type":"rule","color":"#000","strokeWidth":5},"encoding":{"x":{"datum":-0.976},"y":{"datum":22},"y2":{"datum":27.4}}},
  {"mark":{"type":"point","shape":"M0,1L0.667,-1L-0.667,-1Z","size":900,"filled":true,"color":"#000","opacity":1},"encoding":{"x":{"datum":-0.976},"y":{"datum":27.9}}},
  {"mark":{"type":"point","shape":"circle","size":1590,"filled":true,"fill":"#fff","stroke":"#000","strokeWidth":1.5,"opacity":1},"encoding":{"x":{"datum":-1.9},"y":{"datum":22.05}}},
  {"mark":{"type":"text","font":"Liberation Sans","fontWeight":"bold","fontSize":22,"align":"center","baseline":"middle","text":"Epi.","color":"#000"},
   "encoding":{"x":{"datum":-1.9},"y":{"datum":22.05}}},
  {"mark":{"type":"text","font":"Liberation Sans","fontSize":17.5,"align":"center","baseline":"middle","angle":270,"text":"Rupture propagation direction","color":"#000"},
   "encoding":{"x":{"datum":-3.03},"y":{"datum":15.7}}},
  {"mark":{"type":"text","font":"Liberation Sans","fontSize":17.5,"align":"center","baseline":"middle","angle":270,"text":"Rupture propagation direction","color":"#000"},
   "encoding":{"x":{"datum":-3.03},"y":{"datum":28.13}}}
 ]},
{"width":292,"height":790,
 "layer":[
  {"data":{"name":"ewS"},"mark":{"type":"line","color":"#000","strokeWidth":2,"interpolate":"monotone"},
   "encoding":{"x":{"field":"t","type":"quantitative","scale":{"domain":[0,15],"nice":false,"zero":false},"axis":{"values":[0,5,10,15],"labelExpr":"datum.value < 15 ? datum.value + '.' : ''","title":"s"}},
     "y":{"field":"y","type":"quantitative","scale":{"domain":[-4.064,32.009],"reverse":true,"nice":false,"zero":false},"axis":null},
     "detail":{"field":"n"}}},
  {"data":{"name":"ewP"},"mark":{"type":"line","color":"#000","strokeWidth":2,"strokeDash":[1.6,3.4],"interpolate":"monotone"},
   "encoding":{"x":{"field":"t","type":"quantitative"},"y":{"field":"y","type":"quantitative"},"detail":{"field":"n"}}},
  {"data":{"values":[{}]},"mark":{"type":"rule","color":"#000","strokeWidth":1.5},"encoding":{"x":{"datum":0},"x2":{"datum":2.98},"y":{"datum":-2.83}}},
  {"data":{"values":[{}]},"mark":{"type":"rule","color":"#000","strokeWidth":1.5,"strokeDash":[1.5,2.5]},"encoding":{"x":{"datum":0},"x2":{"datum":2.98},"y":{"datum":-2.01}}},
  {"data":{"values":[{}]},"mark":{"type":"text","font":"DejaVu Sans","fontWeight":"bold","fontSize":23,"align":"left","baseline":"alphabetic","text":"considering Rupture Propagation on Each Subfault","color":"#000"},"encoding":{"x":{"datum":3.24},"y":{"datum":-2.616}}},
  {"data":{"values":[{}]},"mark":{"type":"text","font":"DejaVu Sans","fontWeight":"bold","fontSize":23,"align":"left","baseline":"alphabetic","text":"Point Source","color":"#000"},"encoding":{"x":{"datum":3.24},"y":{"datum":-1.895}}},
  {"data":{"values":[{}]},"mark":{"type":"text","font":"Liberation Sans","fontWeight":"bold","fontSize":26,"align":"center","baseline":"alphabetic","text":"EW","color":"#000"},"encoding":{"x":{"datum":7.7},"y":{"datum":-0.776}}}
 ]},
{"width":292,"height":790,
 "layer":[
  {"data":{"name":"nsS"},"mark":{"type":"line","color":"#000","strokeWidth":2,"interpolate":"monotone"},
   "encoding":{"x":{"field":"t","type":"quantitative","scale":{"domain":[0,15],"nice":false,"zero":false},"axis":{"values":[0,5,10,15],"labelExpr":"datum.value < 15 ? datum.value + '.' : ''","title":"s"}},
     "y":{"field":"y","type":"quantitative","scale":{"domain":[-4.064,32.009],"reverse":true,"nice":false,"zero":false},"axis":null},
     "detail":{"field":"n"}}},
  {"data":{"name":"nsP"},"mark":{"type":"line","color":"#000","strokeWidth":2,"strokeDash":[1.6,3.4],"interpolate":"monotone"},
   "encoding":{"x":{"field":"t","type":"quantitative"},"y":{"field":"y","type":"quantitative"},"detail":{"field":"n"}}},
  {"data":{"values":[{}]},"mark":{"type":"text","font":"Liberation Sans","fontWeight":"bold","fontSize":26,"align":"center","baseline":"alphabetic","text":"NS","color":"#000"},"encoding":{"x":{"datum":7.6},"y":{"datum":-0.776}}}
 ]},
{"width":292,"height":790,
 "layer":[
  {"data":{"name":"udS"},"mark":{"type":"line","color":"#000","strokeWidth":2,"interpolate":"monotone"},
   "encoding":{"x":{"field":"t","type":"quantitative","scale":{"domain":[0,15],"nice":false,"zero":false},"axis":{"values":[0,5,10,15],"labelExpr":"datum.value < 15 ? datum.value + '.' : ''","title":"s"}},
     "y":{"field":"y","type":"quantitative","scale":{"domain":[-4.064,32.009],"reverse":true,"nice":false,"zero":false},"axis":null},
     "detail":{"field":"n"}}},
  {"data":{"name":"udP"},"mark":{"type":"line","color":"#000","strokeWidth":2,"strokeDash":[1.6,3.4],"interpolate":"monotone"},
   "encoding":{"x":{"field":"t","type":"quantitative"},"y":{"field":"y","type":"quantitative"},"detail":{"field":"n"}}},
  {"data":{"values":[{}]},"mark":{"type":"text","font":"Liberation Sans","fontWeight":"bold","fontSize":26,"align":"center","baseline":"alphabetic","text":"UD","color":"#000"},"encoding":{"x":{"datum":7.6},"y":{"datum":-0.776}}},
  {"data":{"name":"grp"},"mark":{"type":"rule","color":"#000","strokeWidth":2},"encoding":{"x":{"datum":16.13},"y":{"field":"n0","type":"quantitative"},"y2":{"field":"n1"}}},
  {"data":{"name":"grp"},"mark":{"type":"rule","color":"#000","strokeWidth":2},"encoding":{"x":{"datum":16.13},"x2":{"datum":16.49},"y":{"field":"n0","type":"quantitative"}}},
  {"data":{"name":"grp"},"mark":{"type":"rule","color":"#000","strokeWidth":2},"encoding":{"x":{"datum":16.13},"x2":{"datum":16.49},"y":{"field":"n1","type":"quantitative"}}},
  {"data":{"name":"grp"},"mark":{"type":"text","font":"Liberation Sans","fontWeight":"bold","fontSize":22,"align":"center","baseline":"middle","color":"#000"},"encoding":{"x":{"datum":16.95},"y":{"field":"m","type":"quantitative"},"text":{"field":"g"}}}
 ]}
]
}
